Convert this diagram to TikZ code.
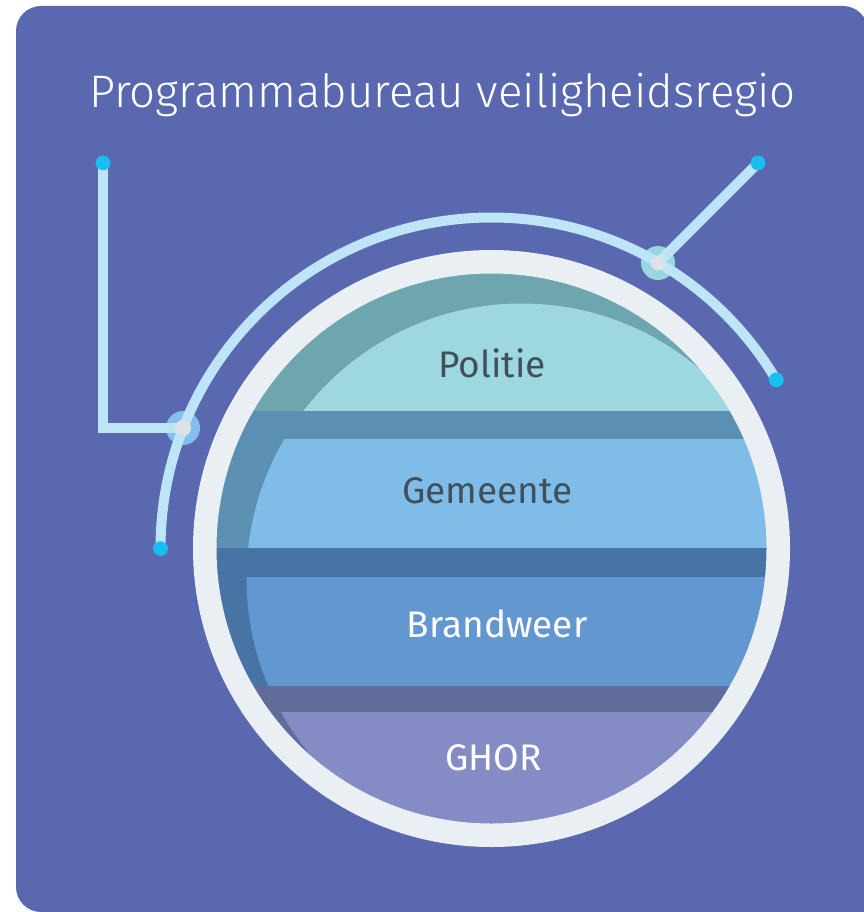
\documentclass[tikz,border=0pt]{standalone}
\usepackage{fontspec}
\setmainfont{Fira Sans}
\newfontfamily\lightfont{Fira Sans Light}
\usepackage{tikz}
\definecolor{bgblue}{HTML}{5A68B0}
\definecolor{ringgrey}{HTML}{E9EFF2}
\definecolor{politieD}{HTML}{6EA6AF}
\definecolor{politieL}{HTML}{9DD7DF}
\definecolor{gemeenteD}{HTML}{5B90B3}
\definecolor{gemeenteL}{HTML}{7FBCE8}
\definecolor{brandD}{HTML}{4773A5}
\definecolor{brandL}{HTML}{6297CF}
\definecolor{ghorD}{HTML}{606C9A}
\definecolor{ghorL}{HTML}{848BC5}
\definecolor{labelgrey}{HTML}{3F505C}
\definecolor{wireblue}{HTML}{BDE4F7}
\definecolor{dotcyan}{HTML}{18BEF0}
\definecolor{haloL}{HTML}{83BFEA}
\definecolor{haloR}{HTML}{9AD6DF}
\definecolor{hubgrey}{HTML}{DCE2E7}

\begin{document}
\begin{tikzpicture}[x=1pt, y=-1pt, line join=miter,
	wire/.style={draw=wireblue, line width=10pt},
	enddot/.style={circle, fill=dotcyan, inner sep=0pt, minimum size=14.6pt},
	halo/.style={circle, inner sep=0pt, minimum size=34pt},
	hub/.style={circle, fill=hubgrey, inner sep=0pt, minimum size=16pt},
	bandtext/.style={anchor=base, font=\fontsize{37}{37}\selectfont}]
	\useasboundingbox (0,0) rectangle (863,912);
	% background card
	\fill[bgblue, rounded corners=25pt] (16,6) rectangle (868,912);
	\fill[bgblue] (800,850) rectangle (868,912);
	\node[anchor=base, text=white, font=\lightfont\fontsize{45.6}{45.6}\selectfont] (title) at (442.5,108) {Programmabureau veiligheidsregio};

	\coordinate (ctr) at (491.5,548.5);
	\coordinate (sctr) at (521.5,578.5);
	% bands
	\begin{scope}
		\clip (ctr) circle[radius=276pt];
		\fill[politieD] (200,260) rectangle (790,411);
		\fill[gemeenteD] (200,411) rectangle (790,548);
		\fill[brandD] (200,548) rectangle (790,686);
		\fill[ghorD] (200,686) rectangle (790,840);
		\clip (sctr) circle[radius=275pt];
		\fill[politieL] (200,260) rectangle (790,411);
		\fill[gemeenteL] (200,438.5) rectangle (790,548);
		\fill[brandL] (200,576.5) rectangle (790,686);
		\fill[ghorL] (200,712) rectangle (790,860);
	\end{scope}
	\draw[ringgrey, line width=23.5pt] (ctr) circle[radius=286.75pt];

	\node[bandtext, text=labelgrey] (politie) at (492,377) {Politie};
	\node[bandtext, text=labelgrey] (gemeente) at (487.5,503) {Gemeente};
	\node[bandtext, text=white] (brandweer) at (497,637) {Brandweer};
	\node[bandtext, text=white] (ghor) at (493.5,770) {GHOR};

	% wires
	\node[halo, fill=haloL] (jL) at (183,428) {};
	\node[halo, fill=haloR] (jR) at (658,263) {};
	\node[enddot] (pL) at (103,163) {};
	\node[enddot] (pR) at (758,163) {};
	\node[enddot] (aL) at (160.5,548.5) {};
	\node[enddot] (aR) at (776.3,379.8) {};
	\draw[wire] (aL.center) arc[start angle=180, end angle=30.64, radius=331pt];
	\draw[wire] (pL.center) |- (jL.center);
	\draw[wire] (pR.center) -- (jR.center);
	\node[hub] at (jL) {};
	\node[hub, minimum size=15pt] at (jR) {};
	\foreach \p in {pL, pR, aL, aR}
		\node[enddot] at (\p) {};
\end{tikzpicture}
\end{document}
